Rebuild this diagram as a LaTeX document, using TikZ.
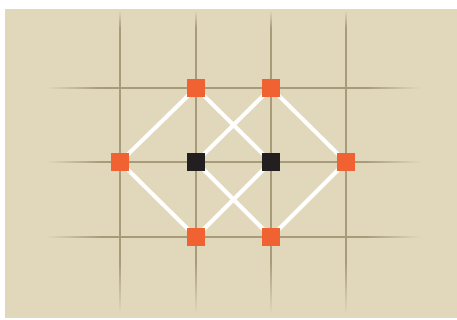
\documentclass[tikz,border=0pt]{standalone}
\usetikzlibrary{calc}
\definecolor{sand}{RGB}{225,216,188}
\definecolor{rule}{RGB}{168,155,122}
\definecolor{ember}{RGB}{240,98,50}
\definecolor{coal}{RGB}{35,31,32}

\begin{document}
\begin{tikzpicture}[x=1pt,y=-1pt,
  sq/.style={rectangle,minimum size=18pt,inner sep=0pt},
  hot/.style={sq,fill=ember},
  cold/.style={sq,fill=coal},
  wire/.style={white,line width=4pt}]
\useasboundingbox (0,0) rectangle (457,320);
\fill[sand] (5,9) rectangle (457,318);
% grid, faded at the ends
\foreach \x in {120,196,271,346} {
  \fill[rule] (\x-0.8,28) rectangle (\x+0.8,262);
  \shade[top color=sand,bottom color=rule] (\x-0.8,10) rectangle (\x+0.8,28);
  \shade[top color=rule,bottom color=sand] (\x-0.8,262) rectangle (\x+0.8,314);
}
\foreach \y in {88,162,237} {
  \fill[rule] (100,\y-0.8) rectangle (366,\y+0.8);
  \shade[left color=sand,right color=rule] (45,\y-0.8) rectangle (100,\y+0.8);
  \shade[left color=rule,right color=sand] (366,\y-0.8) rectangle (421,\y+0.8);
}
\coordinate (tl) at (196,88);
\coordinate (tr) at (271,88);
\coordinate (ml) at (120,162);
\coordinate (mr) at (346,162);
\coordinate (cl) at (196,162);
\coordinate (cr) at (271,162);
\coordinate (bl) at (196,237);
\coordinate (br) at (271,237);
\foreach \a/\b in {ml/tl,tl/cr,tr/cl,tr/mr,ml/bl,cl/br,cr/bl,mr/br}
  \draw[wire] (\a) -- (\b);
\node[hot] (tlsq) at (tl) {};
\node[hot] (trsq) at (tr) {};
\node[hot] (mlsq) at (ml) {};
\node[hot] (mrsq) at (mr) {};
\node[cold] (clsq) at (cl) {};
\node[cold] (crsq) at (cr) {};
\node[hot] (blsq) at (bl) {};
\node[hot] (brsq) at (br) {};
\end{tikzpicture}
\end{document}
